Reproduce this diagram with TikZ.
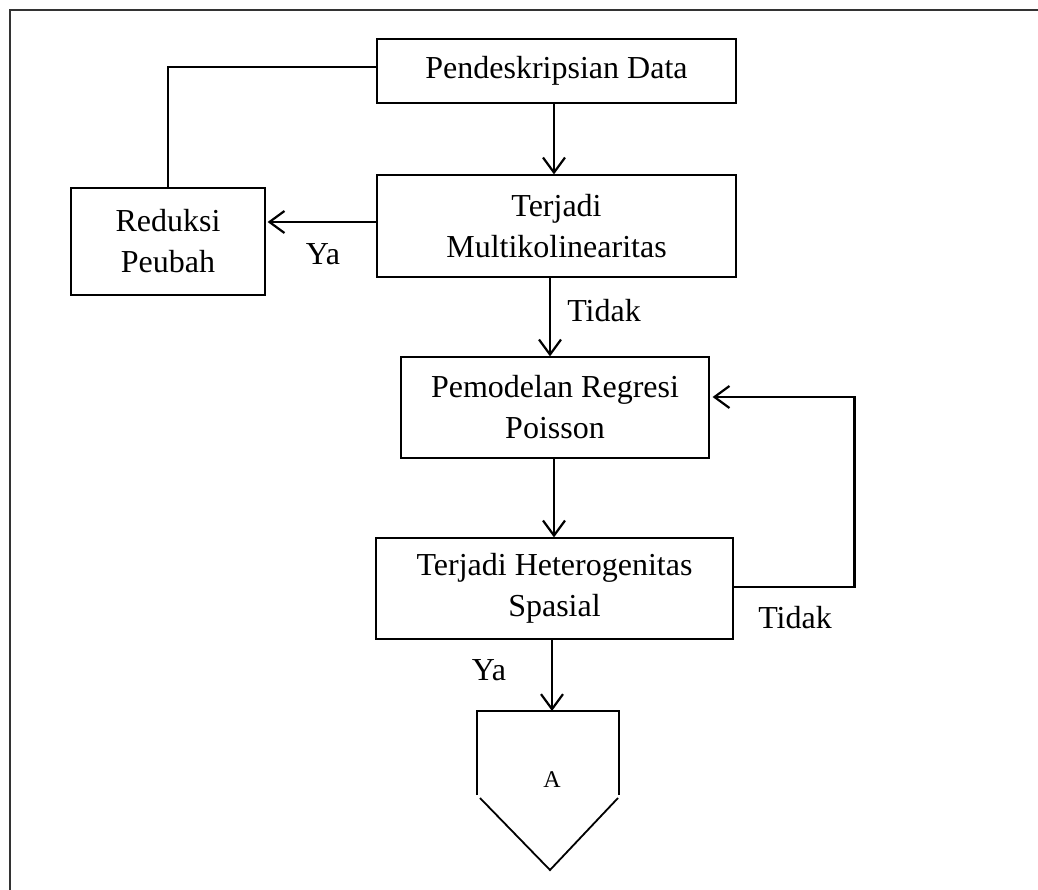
\documentclass[tikz,border=0pt]{standalone}
\usepackage{fontspec}
\setmainfont{Liberation Serif}
\usetikzlibrary{arrows.meta}
\begin{document}
\begin{tikzpicture}[x=1pt,y=-1pt,
  box/.style={draw, line width=1.2pt, inner sep=0pt, align=center,
    font=\fontsize{32}{41}\selectfont},
  conn/.style={line width=2.4pt},
  arr/.style={conn, -{Straight Barb[length=15pt,width=22pt,line width=2.2pt]}},
  lbl/.style={anchor=base, inner sep=0pt, font=\fontsize{32}{41}\selectfont}]
\useasboundingbox (0,0) rectangle (1038,890);
% outer frame (left and top only)
\draw[line width=1.8pt, black!80] (10,890) -- (10,10) -- (1038,10);

\node[box, minimum width=359pt, minimum height=64pt] (b1) at (556.5,71) {Pendeskripsian Data};
\node[box, minimum width=359pt, minimum height=102pt] (b2) at (556.5,226) {Terjadi\\Multikolinearitas};
\node[box, minimum width=194pt, minimum height=107pt] (red) at (168,241.5) {Reduksi\\Peubah};
\node[box, minimum width=308pt, minimum height=101pt] (b3) at (555,407.5) {Pemodelan Regresi\\Poisson};
\node[box, minimum width=357pt, minimum height=101pt] (b4) at (554.5,588.5) {Terjadi Heterogenitas\\Spasial};

% pentagon connector
\coordinate (ptop) at (548,711);
\draw[line width=2.2pt, line join=miter] (477,795) -- (477,711) -- (619,711) -- (619,795);
\draw[line width=1.8pt] (480,798) -- (550,870) -- (618,798);
\node[anchor=base, inner sep=0pt, font=\fontsize{24}{28}\selectfont] (A) at (552,787) {A};

% connectors
\draw[arr] ([xshift=-2.5pt]b1.south) -- ([xshift=-2.5pt]b1.south |- b2.north);
\draw[conn] ([yshift=4pt]b1.west) -| (red.north);
\draw[arr] ([yshift=4pt]b2.west) -- ([yshift=4pt,xshift=2pt]b2.west -| red.east);
\draw[arr] ([xshift=-6.5pt]b2.south) -- ([xshift=-6.5pt]b2.south |- b3.north);
\draw[arr] ([xshift=-1pt]b3.south) -- ([xshift=-1pt]b3.south |- b4.north);
\draw[arr] ([yshift=1.5pt]b4.east) -- ++(121,0) coordinate (lc) |- ([yshift=10.5pt,xshift=3pt]b3.east);
\draw[arr] ([xshift=-2.5pt]b4.south) -- ([xshift=-2.5pt]b4.south |- ptop);

% labels
\node[lbl] (ya1) at (323,265) {Ya};
\node[lbl] (td1) at (604,322) {Tidak};
\node[lbl] (td2) at (795,628) {Tidak};
\node[lbl] (ya2) at (489,680) {Ya};
\end{tikzpicture}
\end{document}
